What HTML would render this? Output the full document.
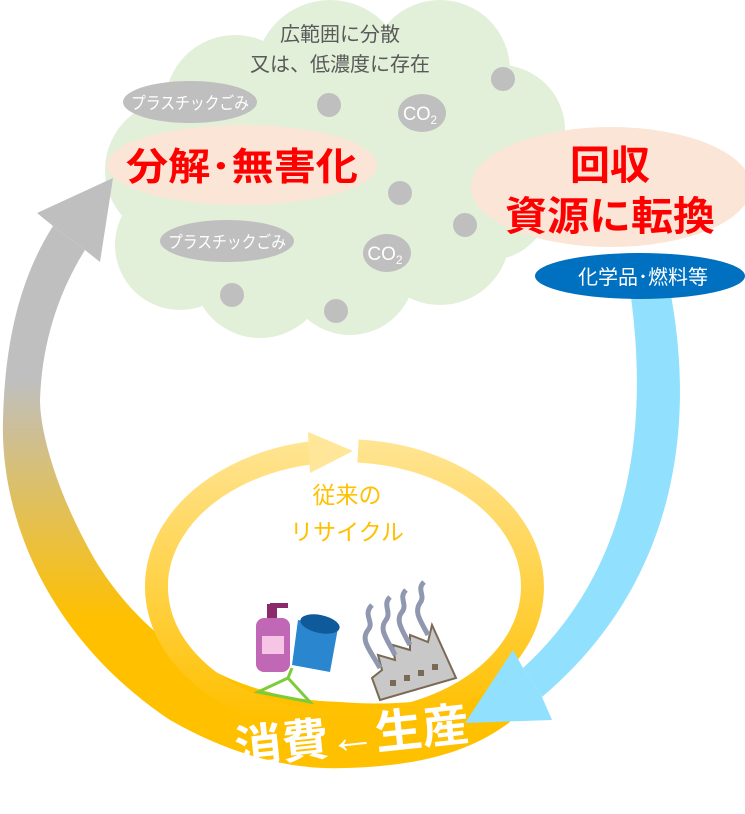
<!DOCTYPE html>
<html><head><meta charset="utf-8"><style>
html,body{margin:0;padding:0;background:#fff}
svg{display:block}
text{font-family:"Liberation Sans","Noto Sans CJK JP",sans-serif}
</style></head><body>
<svg width="745" height="814" viewBox="0 0 745 814" xmlns="http://www.w3.org/2000/svg">
<defs>
<linearGradient id="big" gradientUnits="userSpaceOnUse" x1="0" y1="380" x2="0" y2="620">
<stop offset="0" stop-color="#bfbfbf"/><stop offset="1" stop-color="#ffc000"/></linearGradient>
<linearGradient id="ring" gradientUnits="userSpaceOnUse" x1="0" y1="430" x2="0" y2="720">
<stop offset="0" stop-color="#ffe699"/><stop offset="1" stop-color="#ffc000"/></linearGradient>
</defs>
<!-- cloud -->
<g fill="#e2efd9">
<circle cx="330" cy="75" r="75"/><circle cx="235" cy="105" r="70"/><circle cx="440" cy="70" r="70"/>
<circle cx="500" cy="130" r="65"/><circle cx="175" cy="170" r="70"/><circle cx="180" cy="245" r="65"/>
<circle cx="260" cy="270" r="68"/><circle cx="350" cy="270" r="65"/><circle cx="440" cy="235" r="70"/>
<circle cx="490" cy="200" r="60"/><ellipse cx="340" cy="180" rx="200" ry="120"/>
</g>
<!-- big orange/gray arc -->
<path d="M53,226 C25,270 5,330 3,420 C0,520 50,640 170,720 C240,760 300,770 345,768 C420,766 470,752 510,722 L495,688 C440,702 390,706 340,702 C240,700 150,650 95,560 C55,490 40,430 40,400 C42,340 60,290 85,250 Z" fill="url(#big)"/>
<polygon points="113,178 37,213 53,226 85,250 100,262" fill="#bfbfbf"/>
<!-- inner ring -->
<path d="M358,451 A188 136 0 1 1 318,452" fill="none" stroke="url(#ring)" stroke-width="23"/>
<polygon points="353,451 308,432 310,473" fill="#ffe699"/>
<!-- blue -->
<path d="M670,290 C695,420 680,580 542,697 L523,668 C630,570 650,430 630,290 Z" fill="#91e0fd"/>
<polygon points="465,723 513,650 523,668 542,697 552,720" fill="#91e0fd"/>
<!-- header -->
<text x="340" y="41" font-size="20" fill="#595959" text-anchor="middle">広範囲に分散</text>
<text x="340" y="71" font-size="20" fill="#595959" text-anchor="middle">又は、低濃度に存在</text>
<!-- dots -->
<g fill="#bfbfbf">
<circle cx="503" cy="79" r="12"/><circle cx="329" cy="105" r="12"/><circle cx="400" cy="193" r="12"/>
<circle cx="465" cy="225" r="12"/><circle cx="232" cy="295" r="12"/><circle cx="336" cy="311" r="12"/>
<ellipse cx="422" cy="113" rx="24" ry="19"/><ellipse cx="387" cy="253" rx="24" ry="19"/>
<ellipse cx="190" cy="102" rx="67" ry="21"/><ellipse cx="227" cy="241" rx="67" ry="21"/>
</g>
<text x="420" y="120" font-size="19" fill="#fff" text-anchor="middle" textLength="34" lengthAdjust="spacingAndGlyphs">CO<tspan font-size="12" dy="4">2</tspan></text>
<text x="385" y="260" font-size="19" fill="#fff" text-anchor="middle">CO<tspan font-size="12" dy="4">2</tspan></text>
<text x="190" y="109" font-size="17" fill="#fff" text-anchor="middle" textLength="118" lengthAdjust="spacingAndGlyphs">プラスチックごみ</text>
<text x="227" y="248" font-size="17" fill="#fff" text-anchor="middle" textLength="118" lengthAdjust="spacingAndGlyphs">プラスチックごみ</text>
<!-- peach -->
<ellipse cx="242" cy="165" rx="135" ry="40" fill="#fbe5d6"/>
<text x="242" y="180" font-size="38" font-weight="bold" fill="#ff0000" text-anchor="middle" textLength="232" lengthAdjust="spacingAndGlyphs">分解･無害化</text>
<ellipse cx="611" cy="187" rx="140" ry="60" fill="#fbe5d6"/>
<text x="610" y="179" font-size="40" font-weight="bold" fill="#ff0000" text-anchor="middle">回収</text>
<text x="610" y="230" font-size="40" font-weight="bold" fill="#ff0000" text-anchor="middle" textLength="210" lengthAdjust="spacingAndGlyphs">資源に転換</text>
<ellipse cx="640" cy="276" rx="105" ry="23" fill="#0070c0"/>
<text x="643" y="284" font-size="20" fill="#fff" text-anchor="middle">化学品･燃料等</text>
<!-- recycle text -->
<text x="347" y="503" font-size="23" fill="#ffc000" text-anchor="middle">従来の</text>
<text x="347" y="540" font-size="23" fill="#ffc000" text-anchor="middle">リサイクル</text>
<!-- icons -->
<rect x="267" y="604" width="10" height="14" fill="#8b2a6b"/>
<rect x="270" y="603" width="18" height="5" fill="#8b2a6b"/>
<rect x="256" y="618" width="34" height="54" rx="8" fill="#c067b5"/>
<rect x="262" y="636" width="22" height="18" fill="#f6c5e6"/>
<path d="M298,620 L338,628 L330,672 L292,665 Z" fill="#2a86cf"/>
<ellipse cx="320" cy="624" rx="20" ry="9" fill="#0f5a9a" transform="rotate(12 320 624)"/>
<path d="M292,668 L288,678 L258,692 L310,702 L288,678" fill="none" stroke="#7ccc3a" stroke-width="3"/>
<path d="M380,700 L372,678 L382,670 L378,655 L395,660 L393,645 L410,650 L410,635 L428,642 L432,625 L456,678 Z" fill="#c8c8c8" stroke="#7a6a55" stroke-width="2"/>
<g fill="none" stroke="#9098b0" stroke-width="5">
<path d="M380,668 C370,650 360,640 368,630 C375,622 362,615 372,605"/><path d="M395,655 C388,640 378,630 386,620 C392,612 382,605 390,597"/>
<path d="M410,645 C402,630 395,620 402,612 C408,604 398,598 406,590"/><path d="M428,635 C420,620 414,612 420,603 C426,595 416,590 424,582"/>
</g>
<g fill="#7a6a55"><rect x="390" y="680" width="6" height="6"/><rect x="404" y="675" width="6" height="6"/><rect x="418" y="670" width="6" height="6"/><rect x="432" y="664" width="6" height="6"/></g>
<!-- bottom text -->
<text x="352" y="752" font-size="46" font-weight="bold" fill="#fff" text-anchor="middle" transform="rotate(-6 352 738)" textLength="235" lengthAdjust="spacingAndGlyphs">消費←生産</text>
</svg>
</body></html>
